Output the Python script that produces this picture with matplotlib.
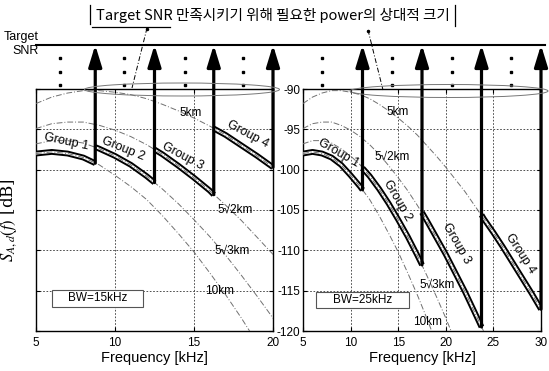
import matplotlib
matplotlib.use('Agg')
import matplotlib.pyplot as plt
from matplotlib.patches import Ellipse, Rectangle

plt.rcParams['font.family'] = ['Liberation Sans', 'DejaVu Sans']
plt.rcParams['mathtext.fontset'] = 'stix'
plt.rcParams['axes.unicode_minus'] = False

# ---------------- data ----------------
freq = [5, 6, 7, 8, 9, 10, 11, 12, 13, 14, 15, 16, 17, 18, 19, 20,
        21, 22, 23, 24, 25, 26, 27, 28, 29, 30]
s_5km = [-91.8, -91.0, -90.5, -90.2, -90.2, -90.4, -90.7, -91.2, -91.9, -92.7,
         -93.6, -94.6, -95.7, -97.0, -98.3, -99.7, -101.2, -102.7, -104.4, -106.1,
         -107.8, -109.6, -111.5, -113.4, -115.3, -117.3]
s_5r2km = [-94.9, -94.3, -94.1, -94.1, -94.5, -95.1, -95.9, -96.9, -98.1, -99.5,
           -101.0, -102.6, -104.4, -106.3, -108.4, -110.5, -112.8, -115.1, -117.6, -120.1,
           -122.7]
s_5r3km = [-96.8, -96.4, -96.4, -96.7, -97.4, -98.3, -99.4, -100.8, -102.4, -104.2,
           -106.2, -108.3, -110.6, -113.1, -115.7, -118.4, -121.3]
s_10km = [-98.0, -97.8, -98.0, -98.5, -99.4, -100.7, -102.1, -103.7, -105.7, -107.9,
          -110.2, -112.8, -115.5, -118.4, -121.5]
dist_labels = ['5km', '5√2km', '5√3km', '10km']

# BW = 15 kHz panel, groups 1-4
l_g1_f = [5, 6, 7, 8, 8.75]
l_g1_s = [-98.0, -97.8, -98.0, -98.5, -99.2]
l_g2_f = [8.75, 9, 10, 11, 12, 12.5]
l_g2_s = [-97.2, -97.4, -98.3, -99.4, -100.8, -101.6]
l_g3_f = [12.5, 13, 14, 15, 16, 16.25]
l_g3_s = [-97.5, -98.1, -99.5, -101.0, -102.6, -103.1]
l_g4_f = [16.25, 17, 18, 19, 20]
l_g4_s = [-94.9, -95.7, -97.0, -98.3, -99.7]

# BW = 25 kHz panel, groups 1-4
r_g1_f = [5, 6, 7, 8, 9, 10, 11, 11.25]
r_g1_s = [-98.0, -97.8, -98.0, -98.5, -99.4, -100.7, -102.1, -102.5]
r_g2_f = [11.25, 12, 13, 14, 15, 16, 17, 17.5]
r_g2_s = [-99.8, -100.8, -102.4, -104.2, -106.2, -108.3, -110.6, -111.8]
r_g3_f = [17.5, 18, 19, 20, 21, 22, 23, 23.75]
r_g3_s = [-105.3, -106.3, -108.4, -110.5, -112.8, -115.1, -117.6, -119.5]
r_g4_f = [23.75, 24, 25, 26, 27, 28, 29, 30]
r_g4_s = [-105.6, -106.1, -107.8, -109.6, -111.5, -113.4, -115.3, -117.3]

group_names = ['Group 1', 'Group 2', 'Group 3', 'Group 4']
target_db = -84.55
yticks = [-90, -95, -100, -105, -110, -115, -120]
l_xticks = [5, 10, 15, 20]
r_xticks = [5, 10, 15, 20, 25, 30]

# ---------------- figure ----------------
W, H = 549, 371
fig = plt.figure(figsize=(W / 100, H / 100), dpi=100)


def rect(x0, y0, x1, y1):
    return [x0 / W, 1 - y1 / H, (x1 - x0) / W, (y1 - y0) / H]


axL = fig.add_axes(rect(36, 89, 273, 331))
axR = fig.add_axes(rect(303, 89, 541, 331))

curve_style = dict(color='#707070', lw=0.7, ls=(0, (6, 2, 1, 2)))


def draw_panel(ax, xmax, xt, groups):
    ax.set_xlim(5, xmax)
    ax.set_ylim(-120, -90)
    ax.set_xticks(xt)
    ax.set_yticks(yticks)
    ax.grid(True, ls=(0, (2, 2)), color='#333333', lw=0.6)
    ax.tick_params(direction='in', length=3, top=True, right=True,
                   labelsize=8.5, width=0.8)
    ax.tick_params(axis='x', pad=4.5)
    ax.tick_params(axis='y', pad=2)
    for sp in ax.spines.values():
        sp.set_linewidth(1.0)
    for fg, sg in groups:
        ax.plot(fg, sg, color='black', lw=4.2, solid_capstyle='butt', zorder=3)
        ax.plot(fg, sg, color='white', lw=1.4, zorder=3.1)
    for s in [s_5km, s_5r2km, s_5r3km, s_10km]:
        ax.plot(freq[:len(s)], s, zorder=3.2, **curve_style)
    # arrows from the end of each group up to the target SNR
    for fg, sg in groups:
        ax.annotate('', xy=(fg[-1], target_db), xytext=(fg[-1], sg[-1]),
                    arrowprops=dict(arrowstyle='-|>,head_width=0.4,head_length=1.3',
                                    lw=2.3, color='black', shrinkA=0, shrinkB=0,
                                    mutation_scale=10),
                    annotation_clip=False, zorder=4)
    ax.set_xlabel('Frequency [kHz]', fontsize=10.5, labelpad=1)


groupsL = [(l_g1_f, l_g1_s), (l_g2_f, l_g2_s), (l_g3_f, l_g3_s), (l_g4_f, l_g4_s)]
groupsR = [(r_g1_f, r_g1_s), (r_g2_f, r_g2_s), (r_g3_f, r_g3_s), (r_g4_f, r_g4_s)]
draw_panel(axL, 20, l_xticks, groupsL)
draw_panel(axR, 30, r_xticks, groupsR)
axL.tick_params(labelleft=False)
axL.set_ylabel(r'$S_{A,d}(f)$ [dB]', fontsize=12, family='serif')
axL.yaxis.set_label_coords(-0.07, 0.46)

# dots between arrows
for ax, xs in [(axL, [6.5, 10.6, 14.4, 18.1]), (axR, [7.0, 14.4, 20.6, 26.9])]:
    for x in xs:
        ax.plot([x] * 3, [-86.2, -87.9, -89.5], 's', color='black', ms=1.5,
                clip_on=False, zorder=4)

# distance labels
lab_fs = 8.5
for ax, pos in [(axL, [(14.8, -93.0), (17.6, -105.0), (17.4, -110.0), (16.6, -115.0)]),
                (axR, [(14.9, -92.9), (14.4, -98.4), (19.1, -114.3), (18.1, -118.9)])]:
    for (x, y), t in zip(pos, dist_labels):
        ax.text(x, y, t, fontsize=lab_fs, ha='center', va='center', zorder=5)

# group labels
for ax, pos in [(axL, [(6.9, -96.6, -12), (10.5, -97.4, -22), (14.3, -98.4, -28), (18.4, -95.6, -28)]),
                (axR, [(8.7, -97.9, -30), (14.9, -103.8, -60), (21.1, -109.2, -60), (27.8, -110.4, -57)])]:
    for (x, y, r), t in zip(pos, group_names):
        ax.text(x, y, t, fontsize=9, ha='center', va='center', rotation=r,
                rotation_mode='anchor', zorder=5)

# BW boxes
axL.add_patch(Rectangle((6.0, -117.0), 5.8, 2.1, fc='white', ec='#555555', lw=0.8, zorder=5))
axL.text(8.9, -115.95, 'BW=15kHz', fontsize=8.5, ha='center', va='center', zorder=6)
axR.add_patch(Rectangle((6.4, -117.1), 9.7, 1.95, fc='white', ec='#555555', lw=0.8, zorder=5))
axR.text(11.25, -116.1, 'BW=25kHz', fontsize=8.5, ha='center', va='center', zorder=6)

# ---------------- overlay in pixel coordinates ----------------
ov = fig.add_axes([0, 0, 1, 1])
ov.set_xlim(0, W)
ov.set_ylim(H, 0)
ov.axis('off')
ov.set_zorder(10)

ov.plot([36, 545], [45, 45], color='black', lw=1.5)
ov.text(39, 37, 'Target', fontsize=9, ha='right', va='center')
ov.text(39, 51, 'SNR', fontsize=9, ha='right', va='center')

ov.add_patch(Ellipse((182, 89.5), 195, 13, fill=False, ec='#777777', lw=0.7))
ov.add_patch(Ellipse((449, 91), 198, 13, fill=False, ec='#777777', lw=0.7))

ov.text(96, 15, 'Target SNR 만족시키기 위해 필요한 power의 상대적 크기', fontsize=10.5,
        ha='left', va='center', family=['Noto Sans CJK KR', 'DejaVu Sans'])
ov.plot([90, 90], [5, 24], color='black', lw=0.9)
ov.plot([455, 455], [5, 26], color='black', lw=0.9)
ov.plot([92, 170], [27, 27], color='black', lw=0.9)
ov.plot([147, 132], [28, 88], color='black', lw=0.7, ls=(0, (5, 2, 1, 2)))
ov.plot([368, 383], [30, 90], color='black', lw=0.7, ls=(0, (5, 2, 1, 2)))
ov.plot([147, 368], [29, 31], 'o', color='black', ms=1.5)

fig.savefig('out.png', dpi=100)
